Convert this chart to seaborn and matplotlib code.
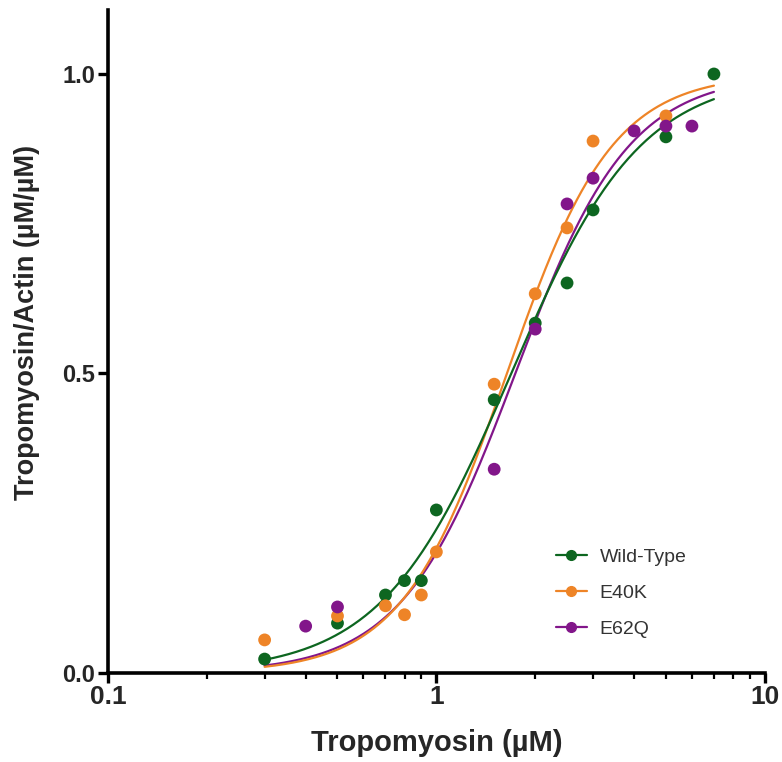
import numpy as np
import pandas as pd
import matplotlib
matplotlib.use('Agg')
import matplotlib.pyplot as plt
from matplotlib.lines import Line2D
import seaborn as sns

# data
groups = ['Wild-Type', 'E40K', 'E62Q']
colors = ['#0d6620', '#ee8427', '#82168a']

wt_x = [0.3, 0.5, 0.7, 0.8, 0.9, 1.0, 1.5, 2.0, 2.5, 3.0, 5.0, 7.0]
wt_y = [0.023, 0.083, 0.13, 0.154, 0.154, 0.272, 0.456, 0.584, 0.651, 0.773, 0.895, 1.0]
e40k_x = [0.3, 0.5, 0.7, 0.8, 0.9, 1.0, 1.5, 2.0, 2.5, 3.0, 5.0]
e40k_y = [0.055, 0.095, 0.112, 0.097, 0.13, 0.202, 0.482, 0.633, 0.743, 0.888, 0.93]
e62q_x = [0.4, 0.5, 1.5, 2.0, 2.5, 3.0, 4.0, 5.0, 6.0]
e62q_y = [0.078, 0.11, 0.34, 0.574, 0.783, 0.826, 0.905, 0.913, 0.913]

# Hill fit parameters (K, n) estimated from the drawn curves
hill_k = [1.69, 1.64, 1.74]
hill_n = [2.2, 2.7, 2.5]
fit_range = (0.3, 7.0)

pts = pd.concat([
    pd.DataFrame({'x': wt_x, 'y': wt_y, 'group': 'Wild-Type'}),
    pd.DataFrame({'x': e40k_x, 'y': e40k_y, 'group': 'E40K'}),
    pd.DataFrame({'x': e62q_x, 'y': e62q_y, 'group': 'E62Q'}),
])

xs = np.logspace(np.log10(fit_range[0]), np.log10(fit_range[1]), 300)
curves = []
for g, k, n in zip(groups, hill_k, hill_n):
    curves.append(pd.DataFrame({'x': xs, 'y': xs**n / (k**n + xs**n), 'group': g}))
curves = pd.concat(curves)

sns.set_style('ticks')
plt.rcParams['font.family'] = ['Liberation Sans', 'DejaVu Sans']

fig = plt.figure(figsize=(7.82, 7.62), dpi=100)
ax = fig.add_axes([0.138, 0.117, 0.840, 0.870])

pal = dict(zip(groups, colors))
sns.lineplot(data=curves, x='x', y='y', hue='group', palette=pal, hue_order=groups[::-1],
             linewidth=1.6, legend=False, ax=ax)
sns.scatterplot(data=pts, x='x', y='y', hue='group', palette=pal, hue_order=groups,
                s=85, edgecolor='none', legend=False, ax=ax, zorder=3)

ax.set_xscale('log')
ax.set_xlim(0.1, 10)
ax.set_ylim(0, 1.107)
ax.set_yticks([0.0, 0.5, 1.0])
ax.set_yticklabels(['0.0', '0.5', '1.0'])
ax.set_xticks([0.1, 1, 10])
ax.set_xticklabels(['0.1', '1', '10'])

for s in ['top', 'right']:
    ax.spines[s].set_visible(False)
for s in ['left', 'bottom']:
    ax.spines[s].set_linewidth(2.6)
    ax.spines[s].set_color('black')

ax.tick_params(axis='both', which='major', length=7, width=2.4, color='black', pad=2)
ax.tick_params(axis='x', which='minor', length=4.5, width=1.6, color='black')
ax.tick_params(axis='y', which='minor', length=0)
for lab in ax.get_yticklabels():
    lab.set_fontsize(17)
    lab.set_fontweight('bold')
for lab in ax.get_xticklabels():
    lab.set_fontsize(19)
    lab.set_fontweight('bold')

ax.set_xlabel('Tropomyosin (µM)', fontsize=21, fontweight='bold', labelpad=14)
ax.set_ylabel('Tropomyosin/Actin (µM/µM)', fontsize=19.5, fontweight='bold')
ax.yaxis.set_label_coords(-0.104, 0.529)

handles = [Line2D([], [], color=c, marker='o', markersize=7, linewidth=1.6) for c in colors]
leg = ax.legend(handles, groups, loc='center left', bbox_to_anchor=(0.682, 0.12),
                frameon=False, fontsize=14, handlelength=1.6, handletextpad=0.65,
                labelspacing=0.95, borderpad=0, borderaxespad=0)
for t in leg.get_texts():
    t.set_color('#333333')

fig.savefig('out.png', dpi=100)
